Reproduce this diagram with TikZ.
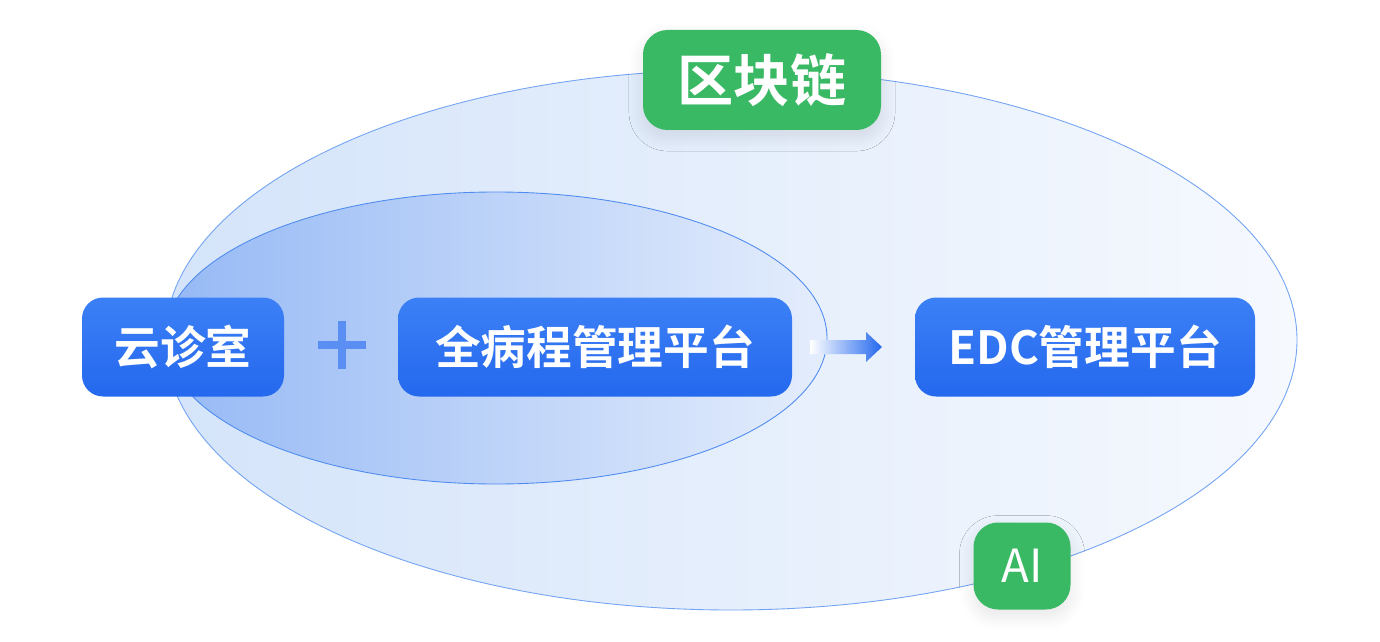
\documentclass[tikz,border=0pt]{standalone}
\usepackage{fontspec}
\newfontfamily\cjk{Noto Sans CJK SC}[BoldFont={Noto Sans CJK SC Bold}]
\usetikzlibrary{arrows.meta}
\usetikzlibrary{shadows.blur}
\definecolor{boxblue}{RGB}{36,104,238}
\definecolor{boxbluetop}{RGB}{60,128,246}
\definecolor{chaingreen}{RGB}{58,185,100}
\definecolor{ringblue}{RGB}{80,140,240}
\definecolor{outerleft}{RGB}{212,228,250}
\definecolor{outerright}{RGB}{246,249,254}
\definecolor{innerleft}{RGB}{150,185,245}
\definecolor{innerright}{RGB}{228,237,252}
\tikzset{
  bluebox/.style={rounded corners=12pt,top color=boxbluetop,bottom color=boxblue,
    text=white,font=\cjk\fontsize{26}{30}\selectfont\bfseries,inner sep=0pt},
  greenbox/.style={rounded corners=14pt,fill=chaingreen,text=white,inner sep=0pt,
    blur shadow={shadow blur steps=10,shadow blur radius=8pt,shadow xshift=0pt,shadow yshift=-4pt,shadow opacity=10}},
}
\begin{document}
\begin{tikzpicture}[x=0.02cm,y=-0.02cm]
    \useasboundingbox (0,0) rectangle (1380,642);
    % outer ring
    \shade[left color=outerleft,right color=outerright,draw=ringblue!80,line width=0.5pt]
        (731,340) ellipse (566 and 270);
    % inner ring
    \shade[left color=innerleft,right color=innerright,draw=ringblue,line width=0.5pt]
        (496,338) ellipse (331 and 146);
    \node[bluebox,minimum width=202*0.02cm,minimum height=99*0.02cm] (clinic) at (183,347) {云诊室};
    \node[bluebox,minimum width=394*0.02cm,minimum height=99*0.02cm] (course) at (595,347) {全病程管理平台};
    \node[bluebox,minimum width=340*0.02cm,minimum height=99*0.02cm] (edc) at (1085,347) {EDC管理平台};
    \node[greenbox,minimum width=238*0.02cm,minimum height=100*0.02cm,
        font=\cjk\fontsize{32}{36}\selectfont\bfseries] (chain) at (762,80) {区块链};
    \node[greenbox,minimum width=97*0.02cm,minimum height=87*0.02cm,
        font=\cjk\fontsize{26}{30}\selectfont] (ai) at (1022,566) {AI};
    % plus sign
    \coordinate (plus) at (342,345);
    \draw[boxblue!75,line width=5pt] ([xshift=-24*0.02cm]plus) -- ([xshift=24*0.02cm]plus);
    \draw[boxblue!75,line width=5pt] ([yshift=-24*0.02cm]plus) -- ([yshift=24*0.02cm]plus);
    % arrow
    \shade[left color=white,right color=boxblue] (810,340) -- (866,340) -- (866,332) -- (882,347)
        -- (866,362) -- (866,354) -- (810,354) -- cycle;
\end{tikzpicture}
\end{document}
